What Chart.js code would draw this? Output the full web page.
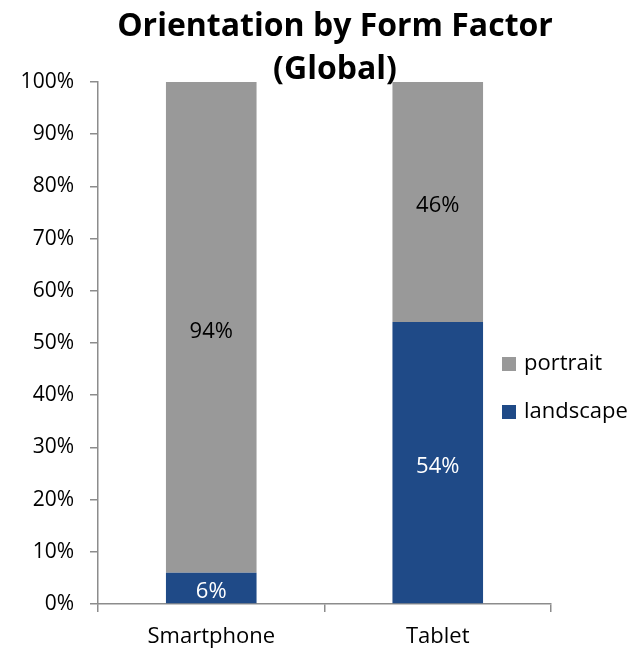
<!DOCTYPE html>
<html>
<head>
<meta charset="utf-8">
<script src="https://cdn.jsdelivr.net/npm/chart.js@4/dist/chart.umd.min.js"></script>
<style>
html,body{margin:0;padding:0;background:#fff;}
#wrap{width:636px;height:653px;position:relative;}
</style>
</head>
<body>
<div id="wrap"><canvas id="c" width="636" height="653"></canvas></div>
<script>
const titleLines = ["Orientation by Form Factor", "(Global)"];
const categories = ["Smartphone", "Tablet"];
const landscapeValues = [6, 54];
const portraitValues = [94, 46];
const seriesNames = ["landscape", "portrait"];
const yTicks = [0,10,20,30,40,50,60,70,80,90,100];

const FONT = "'Open Sans', sans-serif";
const BLUE = "#1F4A87";
const GRAY = "#999999";
const AXIS = "#8c8c8c";

const overlay = {
  id: 'overlay',
  afterDraw(chart) {
    const ctx = chart.ctx;
    ctx.save();
    // title
    ctx.fillStyle = '#000';
    ctx.font = "bold 32px " + FONT;
    ctx.textAlign = 'center';
    ctx.textBaseline = 'middle';
    ctx.fillText(titleLines[0], 335, 27);
    ctx.fillText(titleLines[1], 335, 70);
    // data labels
    ctx.font = "22px " + FONT;
    chart.data.datasets.forEach((ds, di) => {
      const meta = chart.getDatasetMeta(di);
      meta.data.forEach((bar, i) => {
        const v = ds.data[i];
        const yc = (bar.y + bar.base) / 2;
        ctx.fillStyle = di === 0 ? '#ffffff' : '#000000';
        ctx.fillText(v + '%', bar.x, yc + 4);
      });
    });
    // legend (reverse order)
    const items = chart.data.datasets.map((d) => ({label: d.label, color: d.backgroundColor})).reverse();
    ctx.textAlign = 'left';
    ctx.font = "22px " + FONT;
    items.forEach((it, k) => {
      const cy = 364 + k * 48;
      ctx.fillStyle = it.color;
      ctx.fillRect(502, cy - 7, 14, 14);
      ctx.fillStyle = '#000';
      ctx.fillText(it.label, 524, cy);
    });
    ctx.restore();
  }
};

new Chart(document.getElementById('c'), {
  type: 'bar',
  data: {
    labels: categories,
    datasets: [
      {label: seriesNames[0], data: landscapeValues, backgroundColor: BLUE, barPercentage: 0.4, categoryPercentage: 1},
      {label: seriesNames[1], data: portraitValues, backgroundColor: GRAY, barPercentage: 0.4, categoryPercentage: 1}
    ]
  },
  options: {
    responsive: false,
    animation: false,
    devicePixelRatio: 1,
    layout: {padding: {top: 82, right: 85, left: 0, bottom: 0}},
    plugins: {legend: {display: false}, title: {display: false}, tooltip: {enabled: false}},
    scales: {
      x: {
        stacked: true,
        grid: {display: true, drawOnChartArea: false, drawTicks: true, tickLength: 8, offset: true, color: AXIS, lineWidth: 1.5},
        border: {display: true, color: AXIS, width: 1.5},
        ticks: {color: '#000', font: {family: FONT, size: 22}, padding: 12},
        afterFit(s) { s.height = 49; }
      },
      y: {
        stacked: true,
        min: 0, max: 100,
        afterBuildTicks(s) { s.ticks = yTicks.map(v => ({value: v})); },
        grid: {display: true, drawOnChartArea: false, drawTicks: true, tickLength: 8, color: AXIS, lineWidth: 1.5},
        border: {display: true, color: AXIS, width: 1.5},
        ticks: {color: '#000', font: {family: FONT, size: 21}, padding: 16, callback: (v) => v + '%'},
        afterFit(s) { s.width = 98; }
      }
    }
  },
  plugins: [overlay]
});
</script>
</body>
</html>
